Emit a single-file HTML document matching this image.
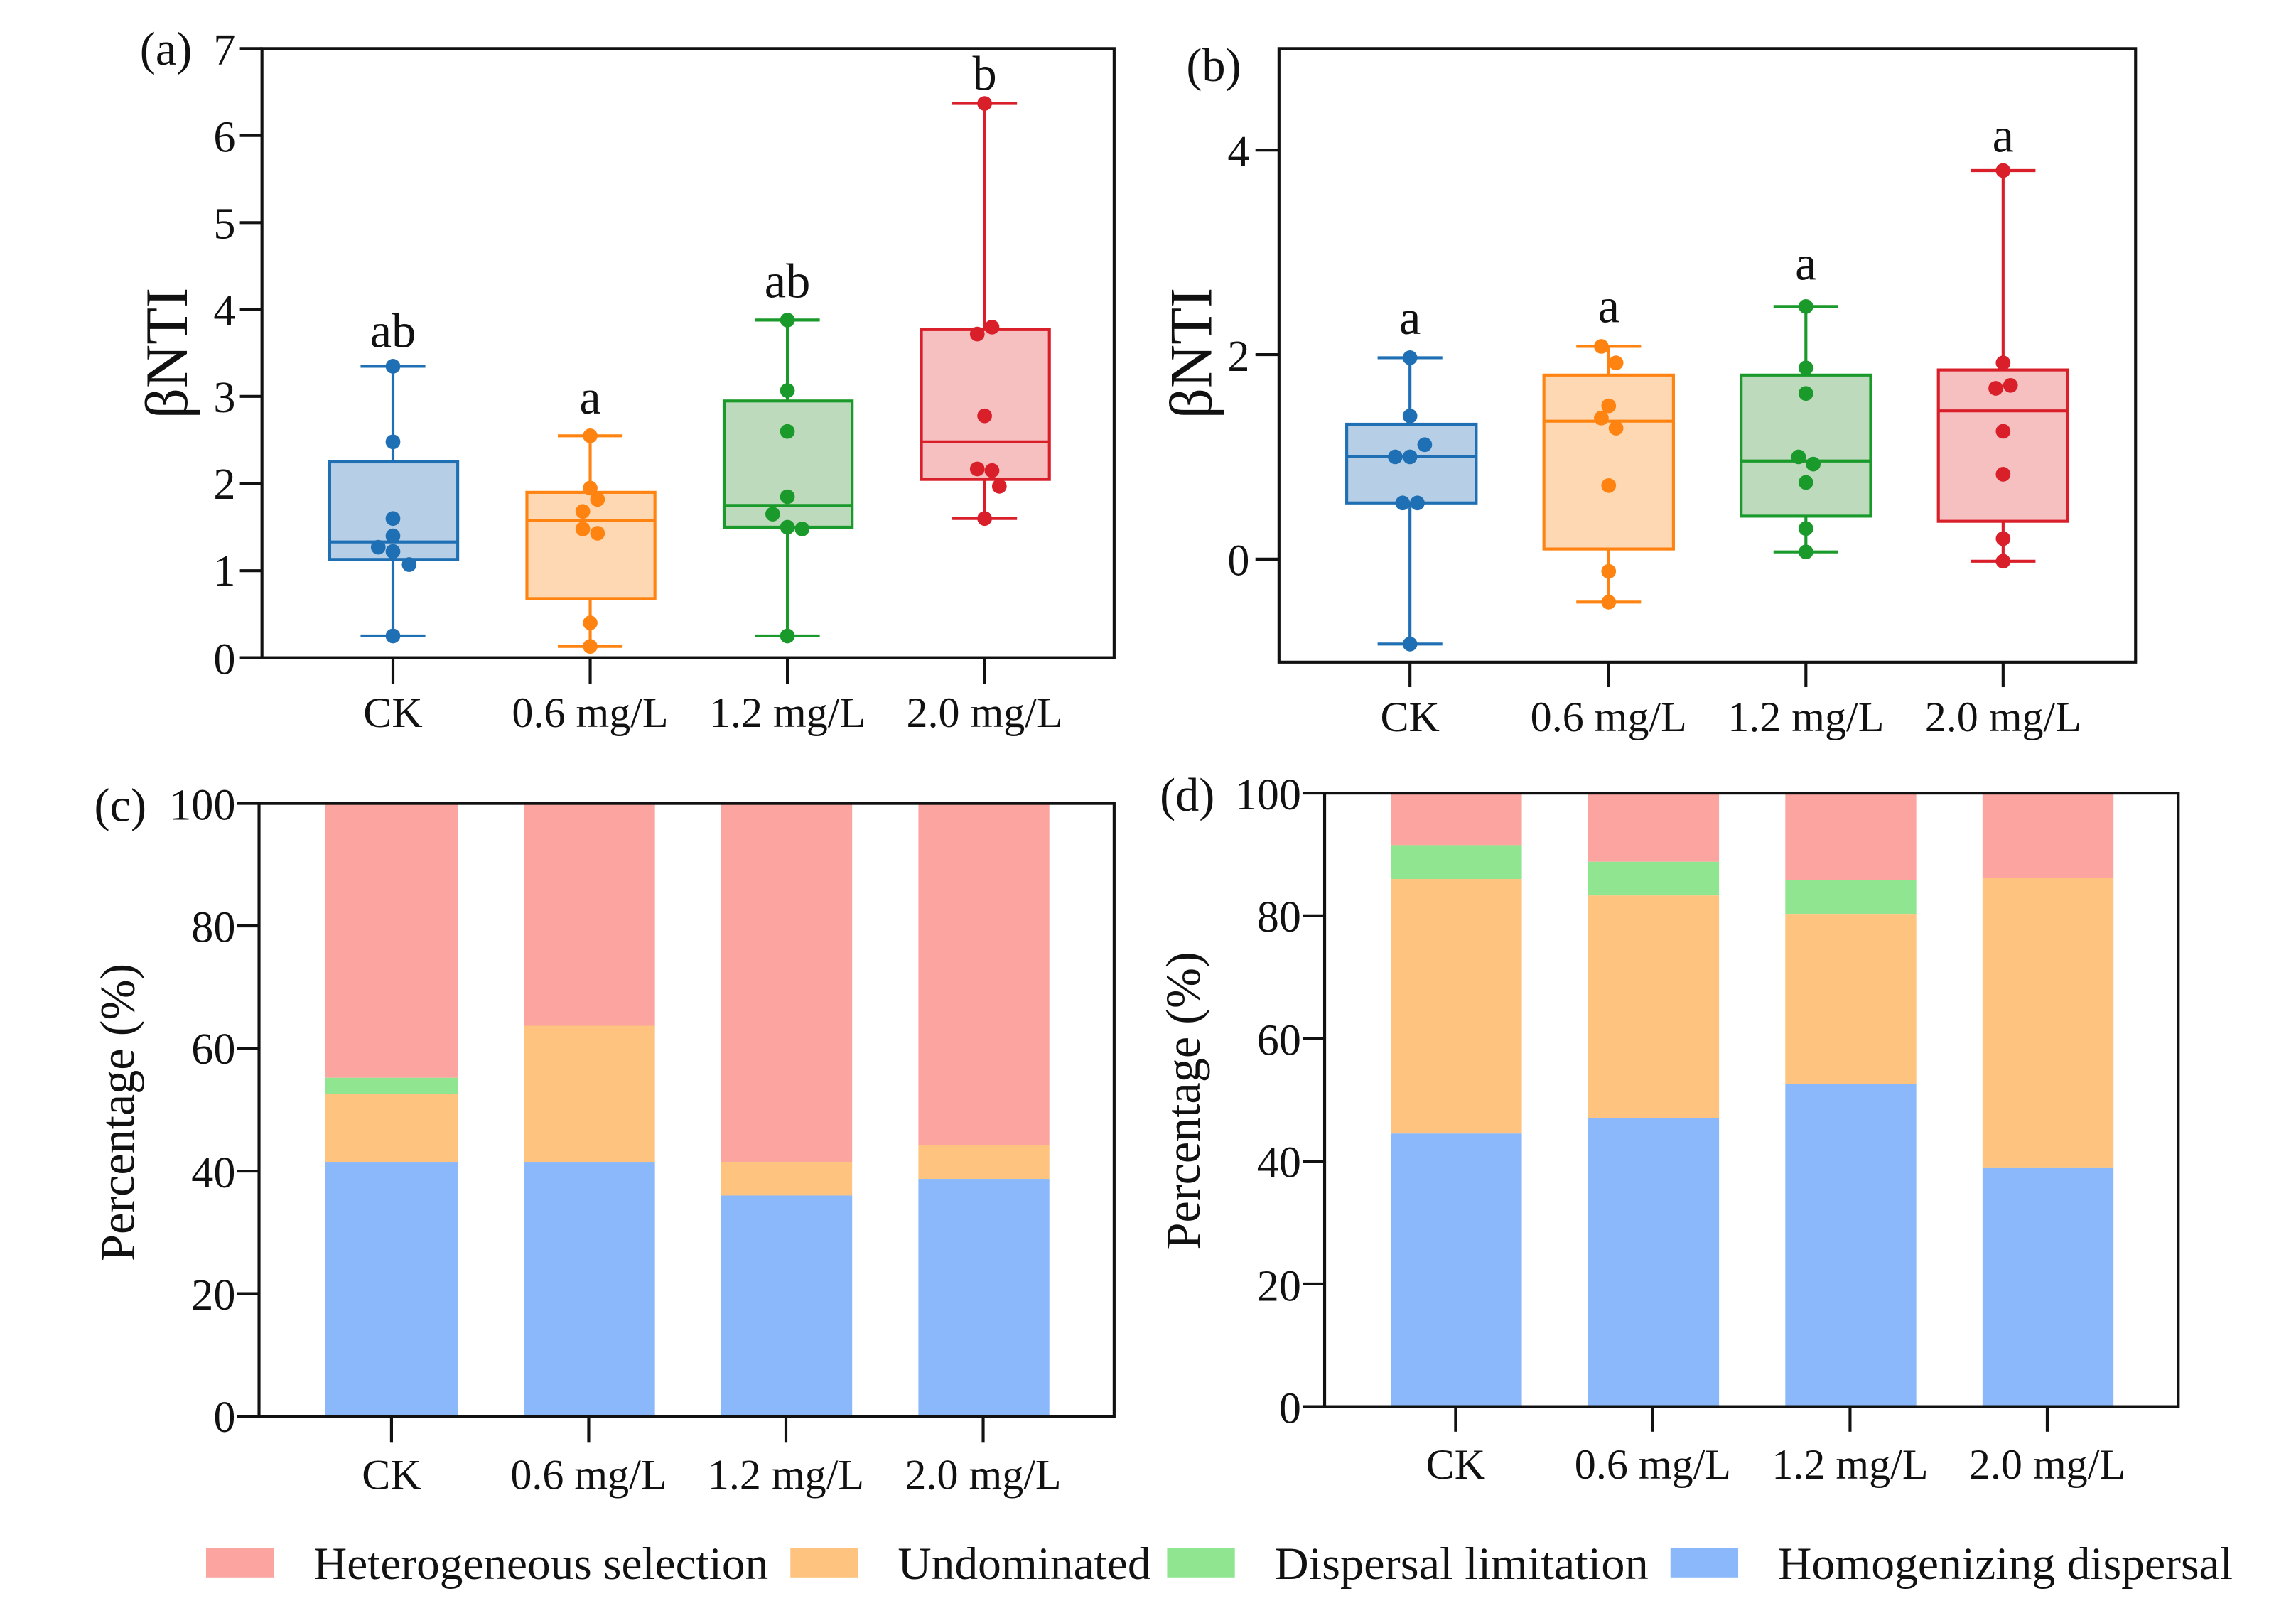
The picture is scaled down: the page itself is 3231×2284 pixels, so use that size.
<!DOCTYPE html>
<html><head><meta charset="utf-8"><style>
html,body{margin:0;padding:0;background:#fff;}
svg{display:block;}
text{font-family:"Liberation Serif",serif;fill:#111;}
</style></head><body>
<svg width="3231" height="2284" viewBox="0 0 1560 1103" preserveAspectRatio="none" xmlns="http://www.w3.org/2000/svg">
<!-- Panel a -->
<g stroke-width="2">
<line x1="267" y1="432.2" x2="267" y2="248.9" stroke="#1f6fb4"/>
<line x1="245" y1="248.9" x2="289" y2="248.9" stroke="#1f6fb4"/><line x1="245" y1="432.2" x2="289" y2="432.2" stroke="#1f6fb4"/>
<rect x="224" y="313.9" width="87" height="66.3" fill="#b7cfe6" stroke="#1f6fb4"/>
<line x1="224" y1="368.3" x2="311" y2="368.3" stroke="#1f6fb4"/>
<g fill="#1f6fb4"><circle cx="267" cy="248.9" r="5"/><circle cx="267" cy="300.3" r="5"/><circle cx="267" cy="352.4" r="5"/><circle cx="267" cy="364.2" r="5"/><circle cx="257" cy="371.9" r="5"/><circle cx="267" cy="374.8" r="5"/><circle cx="278" cy="383.7" r="5"/><circle cx="267" cy="432.2" r="5"/></g>
<line x1="401" y1="439.3" x2="401" y2="296.2" stroke="#ff8311"/>
<line x1="379" y1="296.2" x2="423" y2="296.2" stroke="#ff8311"/><line x1="379" y1="439.3" x2="423" y2="439.3" stroke="#ff8311"/>
<rect x="358" y="334.6" width="87" height="72.2" fill="#fdd8b3" stroke="#ff8311"/>
<line x1="358" y1="353.6" x2="445" y2="353.6" stroke="#ff8311"/>
<g fill="#ff8311"><circle cx="401" cy="296.2" r="5"/><circle cx="401" cy="331.7" r="5"/><circle cx="406" cy="339.4" r="5"/><circle cx="396" cy="347.6" r="5"/><circle cx="396" cy="359.5" r="5"/><circle cx="406" cy="362.4" r="5"/><circle cx="401" cy="423.3" r="5"/><circle cx="401" cy="439.3" r="5"/></g>
<line x1="535" y1="432.2" x2="535" y2="217.5" stroke="#1a9a2a"/>
<line x1="513" y1="217.5" x2="557" y2="217.5" stroke="#1a9a2a"/><line x1="513" y1="432.2" x2="557" y2="432.2" stroke="#1a9a2a"/>
<rect x="492" y="272.5" width="87" height="85.8" fill="#bddbbc" stroke="#1a9a2a"/>
<line x1="492" y1="343.5" x2="579" y2="343.5" stroke="#1a9a2a"/>
<g fill="#1a9a2a"><circle cx="535" cy="217.5" r="5"/><circle cx="535" cy="265.4" r="5"/><circle cx="535" cy="293.2" r="5"/><circle cx="535" cy="337.6" r="5"/><circle cx="525" cy="349.4" r="5"/><circle cx="535" cy="358.3" r="5"/><circle cx="545" cy="359.5" r="5"/><circle cx="535" cy="432.2" r="5"/></g>
<line x1="669" y1="352.4" x2="669" y2="70.3" stroke="#d91f2a"/>
<line x1="647" y1="70.3" x2="691" y2="70.3" stroke="#d91f2a"/><line x1="647" y1="352.4" x2="691" y2="352.4" stroke="#d91f2a"/>
<rect x="626" y="224" width="87" height="101.8" fill="#f6bfc0" stroke="#d91f2a"/>
<line x1="626" y1="300.3" x2="713" y2="300.3" stroke="#d91f2a"/>
<g fill="#d91f2a"><circle cx="669" cy="70.3" r="5"/><circle cx="674" cy="222.3" r="5"/><circle cx="664" cy="227" r="5"/><circle cx="669" cy="282.6" r="5"/><circle cx="664" cy="318.7" r="5"/><circle cx="674" cy="319.8" r="5"/><circle cx="679" cy="330.5" r="5"/><circle cx="669" cy="352.4" r="5"/></g>
</g>
<g stroke="#111" stroke-width="2" fill="none">
<rect x="178" y="33" width="579" height="414"/>
<line x1="163" y1="33" x2="178" y2="33"/><line x1="163" y1="92.1" x2="178" y2="92.1"/><line x1="163" y1="151.3" x2="178" y2="151.3"/><line x1="163" y1="210.4" x2="178" y2="210.4"/><line x1="163" y1="269.4" x2="178" y2="269.4"/><line x1="163" y1="328.7" x2="178" y2="328.7"/><line x1="163" y1="387.9" x2="178" y2="387.9"/><line x1="163" y1="447" x2="178" y2="447"/>
<line x1="267" y1="447" x2="267" y2="465"/><line x1="401" y1="447" x2="401" y2="465"/><line x1="535" y1="447" x2="535" y2="465"/><line x1="669" y1="447" x2="669" y2="465"/>
</g>
<g font-size="30" text-anchor="end">
<text x="160" y="44">7</text><text x="160" y="103">6</text><text x="160" y="162">5</text><text x="160" y="221">4</text><text x="160" y="280">3</text><text x="160" y="339">2</text><text x="160" y="398">1</text><text x="160" y="458">0</text>
</g>
<text x="95" y="44" font-size="32">(a)</text>
<text transform="translate(127,240) rotate(-90)" font-size="41" text-anchor="middle">βNTI</text>
<g font-size="29" text-anchor="middle">
<text x="267" y="494">CK</text><text x="401" y="494">0.6 mg/L</text><text x="535" y="494">1.2 mg/L</text><text x="669" y="494">2.0 mg/L</text>
</g>
<g font-size="33" text-anchor="middle">
<text x="267" y="236">ab</text><text x="401" y="281">a</text><text x="535" y="202">ab</text><text x="669" y="61">b</text>
</g>

<!-- Panel b -->
<g stroke-width="2">
<line x1="958" y1="437.7" x2="958" y2="243.1" stroke="#1f6fb4"/>
<line x1="936" y1="243.1" x2="980" y2="243.1" stroke="#1f6fb4"/><line x1="936" y1="437.7" x2="980" y2="437.7" stroke="#1f6fb4"/>
<rect x="915" y="288.3" width="88" height="53.5" fill="#b7cfe6" stroke="#1f6fb4"/>
<line x1="915" y1="310.5" x2="1003" y2="310.5" stroke="#1f6fb4"/>
<g fill="#1f6fb4"><circle cx="958" cy="243.1" r="5"/><circle cx="958" cy="282.7" r="5"/><circle cx="968" cy="302.2" r="5"/><circle cx="948" cy="310.5" r="5"/><circle cx="958" cy="310.5" r="5"/><circle cx="953" cy="341.8" r="5"/><circle cx="963" cy="341.8" r="5"/><circle cx="958" cy="437.7" r="5"/></g>
<line x1="1093" y1="409.2" x2="1093" y2="235.4" stroke="#ff8311"/>
<line x1="1071" y1="235.4" x2="1115" y2="235.4" stroke="#ff8311"/><line x1="1071" y1="409.2" x2="1115" y2="409.2" stroke="#ff8311"/>
<rect x="1049" y="254.9" width="88" height="118.2" fill="#fdd8b3" stroke="#ff8311"/>
<line x1="1049" y1="286.2" x2="1137" y2="286.2" stroke="#ff8311"/>
<g fill="#ff8311"><circle cx="1088" cy="235.4" r="5"/><circle cx="1098" cy="246.6" r="5"/><circle cx="1093" cy="275.8" r="5"/><circle cx="1088" cy="284.1" r="5"/><circle cx="1098" cy="291" r="5"/><circle cx="1093" cy="330" r="5"/><circle cx="1093" cy="388.3" r="5"/><circle cx="1093" cy="409.2" r="5"/></g>
<line x1="1227" y1="375.1" x2="1227" y2="208.3" stroke="#1a9a2a"/>
<line x1="1205" y1="208.3" x2="1249" y2="208.3" stroke="#1a9a2a"/><line x1="1205" y1="375.1" x2="1249" y2="375.1" stroke="#1a9a2a"/>
<rect x="1183" y="254.9" width="88" height="95.9" fill="#bddbbc" stroke="#1a9a2a"/>
<line x1="1183" y1="313.3" x2="1271" y2="313.3" stroke="#1a9a2a"/>
<g fill="#1a9a2a"><circle cx="1227" cy="208.3" r="5"/><circle cx="1227" cy="250" r="5"/><circle cx="1227" cy="267.4" r="5"/><circle cx="1222" cy="310.5" r="5"/><circle cx="1232" cy="315.4" r="5"/><circle cx="1227" cy="327.9" r="5"/><circle cx="1227" cy="359.2" r="5"/><circle cx="1227" cy="375.1" r="5"/></g>
<line x1="1361" y1="381.4" x2="1361" y2="115.9" stroke="#d91f2a"/>
<line x1="1339" y1="115.9" x2="1383" y2="115.9" stroke="#d91f2a"/><line x1="1339" y1="381.4" x2="1383" y2="381.4" stroke="#d91f2a"/>
<rect x="1317" y="251.4" width="88" height="102.9" fill="#f6bfc0" stroke="#d91f2a"/>
<line x1="1317" y1="279.2" x2="1405" y2="279.2" stroke="#d91f2a"/>
<g fill="#d91f2a"><circle cx="1361" cy="115.9" r="5"/><circle cx="1361" cy="246.6" r="5"/><circle cx="1356" cy="263.9" r="5"/><circle cx="1366" cy="261.9" r="5"/><circle cx="1361" cy="293.1" r="5"/><circle cx="1361" cy="322.3" r="5"/><circle cx="1361" cy="366.1" r="5"/><circle cx="1361" cy="381.4" r="5"/></g>
</g>
<g stroke="#111" stroke-width="2" fill="none">
<rect x="869" y="33" width="582" height="417"/>
<line x1="853" y1="102" x2="869" y2="102"/><line x1="853" y1="241" x2="869" y2="241"/><line x1="853" y1="380" x2="869" y2="380"/>
<line x1="958" y1="450" x2="958" y2="467"/><line x1="1093" y1="450" x2="1093" y2="467"/><line x1="1227" y1="450" x2="1227" y2="467"/><line x1="1361" y1="450" x2="1361" y2="467"/>
</g>
<g font-size="30" text-anchor="end">
<text x="849" y="113">4</text><text x="849" y="252">2</text><text x="849" y="391">0</text>
</g>
<text x="806" y="55" font-size="32">(b)</text>
<text transform="translate(823,240) rotate(-90)" font-size="41" text-anchor="middle">βNTI</text>
<g font-size="29" text-anchor="middle">
<text x="958" y="497">CK</text><text x="1093" y="497">0.6 mg/L</text><text x="1227" y="497">1.2 mg/L</text><text x="1361" y="497">2.0 mg/L</text>
</g>
<g font-size="33" text-anchor="middle">
<text x="958" y="227">a</text><text x="1093" y="219">a</text><text x="1227" y="190">a</text><text x="1361" y="103">a</text>
</g>

<!-- Panel c -->
<g>
<rect x="221" y="546" width="90" height="186.5" fill="#fca5a0"/><rect x="221" y="732.5" width="90" height="11.2" fill="#90e590"/><rect x="221" y="743.7" width="90" height="45.9" fill="#fdc37f"/><rect x="221" y="789.6" width="90" height="172.9" fill="#8ab8fa"/>
<rect x="356" y="546" width="89" height="151.1" fill="#fca5a0"/><rect x="356" y="697.1" width="89" height="92.5" fill="#fdc37f"/><rect x="356" y="789.6" width="89" height="172.9" fill="#8ab8fa"/>
<rect x="490" y="546" width="89" height="243.6" fill="#fca5a0"/><rect x="490" y="789.6" width="89" height="22.9" fill="#fdc37f"/><rect x="490" y="812.5" width="89" height="150" fill="#8ab8fa"/>
<rect x="624" y="546" width="89" height="232.3" fill="#fca5a0"/><rect x="624" y="778.3" width="89" height="22.9" fill="#fdc37f"/><rect x="624" y="801.2" width="89" height="161.3" fill="#8ab8fa"/>
</g>
<g stroke="#111" stroke-width="2" fill="none">
<rect x="176" y="546" width="581" height="416.5"/>
<line x1="161" y1="546" x2="176" y2="546"/><line x1="161" y1="629.3" x2="176" y2="629.3"/><line x1="161" y1="712.6" x2="176" y2="712.6"/><line x1="161" y1="795.9" x2="176" y2="795.9"/><line x1="161" y1="879.2" x2="176" y2="879.2"/><line x1="161" y1="962.5" x2="176" y2="962.5"/>
<line x1="266" y1="962.5" x2="266" y2="980"/><line x1="400" y1="962.5" x2="400" y2="980"/><line x1="534" y1="962.5" x2="534" y2="980"/><line x1="668" y1="962.5" x2="668" y2="980"/>
</g>
<g font-size="30" text-anchor="end">
<text x="160" y="557">100</text><text x="160" y="640">80</text><text x="160" y="723">60</text><text x="160" y="807">40</text><text x="160" y="890">20</text><text x="160" y="973">0</text>
</g>
<text x="64" y="558" font-size="32">(c)</text>
<text transform="translate(91,756) rotate(-90)" font-size="33" text-anchor="middle">Percentage (%)</text>
<g font-size="29" text-anchor="middle">
<text x="266" y="1012">CK</text><text x="400" y="1012">0.6 mg/L</text><text x="534" y="1012">1.2 mg/L</text><text x="668" y="1012">2.0 mg/L</text>
</g>

<!-- Panel d -->
<g>
<rect x="945" y="539" width="89" height="35.4" fill="#fca5a0"/><rect x="945" y="574.4" width="89" height="23" fill="#90e590"/><rect x="945" y="597.4" width="89" height="173" fill="#fdc37f"/><rect x="945" y="770.4" width="89" height="185.6" fill="#8ab8fa"/>
<rect x="1079" y="539" width="89" height="46.7" fill="#fca5a0"/><rect x="1079" y="585.7" width="89" height="22.9" fill="#90e590"/><rect x="1079" y="608.6" width="89" height="151.4" fill="#fdc37f"/><rect x="1079" y="760" width="89" height="196" fill="#8ab8fa"/>
<rect x="1213" y="539" width="89" height="59.2" fill="#fca5a0"/><rect x="1213" y="598.2" width="89" height="22.9" fill="#90e590"/><rect x="1213" y="621.1" width="89" height="115.6" fill="#fdc37f"/><rect x="1213" y="736.7" width="89" height="219.3" fill="#8ab8fa"/>
<rect x="1347" y="539" width="89" height="57.5" fill="#fca5a0"/><rect x="1347" y="596.5" width="89" height="196.9" fill="#fdc37f"/><rect x="1347" y="793.4" width="89" height="162.6" fill="#8ab8fa"/>
</g>
<g stroke="#111" stroke-width="2" fill="none">
<rect x="900" y="539" width="580" height="417"/>
<line x1="885" y1="539" x2="900" y2="539"/><line x1="885" y1="622.4" x2="900" y2="622.4"/><line x1="885" y1="705.8" x2="900" y2="705.8"/><line x1="885" y1="789.2" x2="900" y2="789.2"/><line x1="885" y1="872.6" x2="900" y2="872.6"/><line x1="885" y1="956" x2="900" y2="956"/>
<line x1="989" y1="956" x2="989" y2="973"/><line x1="1123" y1="956" x2="1123" y2="973"/><line x1="1257" y1="956" x2="1257" y2="973"/><line x1="1391" y1="956" x2="1391" y2="973"/>
</g>
<g font-size="30" text-anchor="end">
<text x="884" y="550">100</text><text x="884" y="633">80</text><text x="884" y="717">60</text><text x="884" y="800">40</text><text x="884" y="884">20</text><text x="884" y="967">0</text>
</g>
<text x="788" y="551" font-size="32">(d)</text>
<text transform="translate(815,748) rotate(-90)" font-size="33" text-anchor="middle">Percentage (%)</text>
<g font-size="29" text-anchor="middle">
<text x="989" y="1005">CK</text><text x="1123" y="1005">0.6 mg/L</text><text x="1257" y="1005">1.2 mg/L</text><text x="1391" y="1005">2.0 mg/L</text>
</g>

<!-- Legend -->
<rect x="140" y="1052" width="46" height="20" fill="#fca5a0"/>
<rect x="537" y="1052" width="46" height="20" fill="#fdc37f"/>
<rect x="793" y="1052" width="46" height="20" fill="#90e590"/>
<rect x="1135" y="1052" width="46" height="20" fill="#8ab8fa"/>
<g font-size="31">
<text x="213" y="1073" textLength="309" lengthAdjust="spacingAndGlyphs">Heterogeneous selection</text>
<text x="610" y="1073" textLength="172" lengthAdjust="spacingAndGlyphs">Undominated</text>
<text x="866" y="1073" textLength="254" lengthAdjust="spacingAndGlyphs">Dispersal limitation</text>
<text x="1208" y="1073" textLength="309" lengthAdjust="spacingAndGlyphs">Homogenizing dispersal</text>
</g>
</svg>
</body></html>
